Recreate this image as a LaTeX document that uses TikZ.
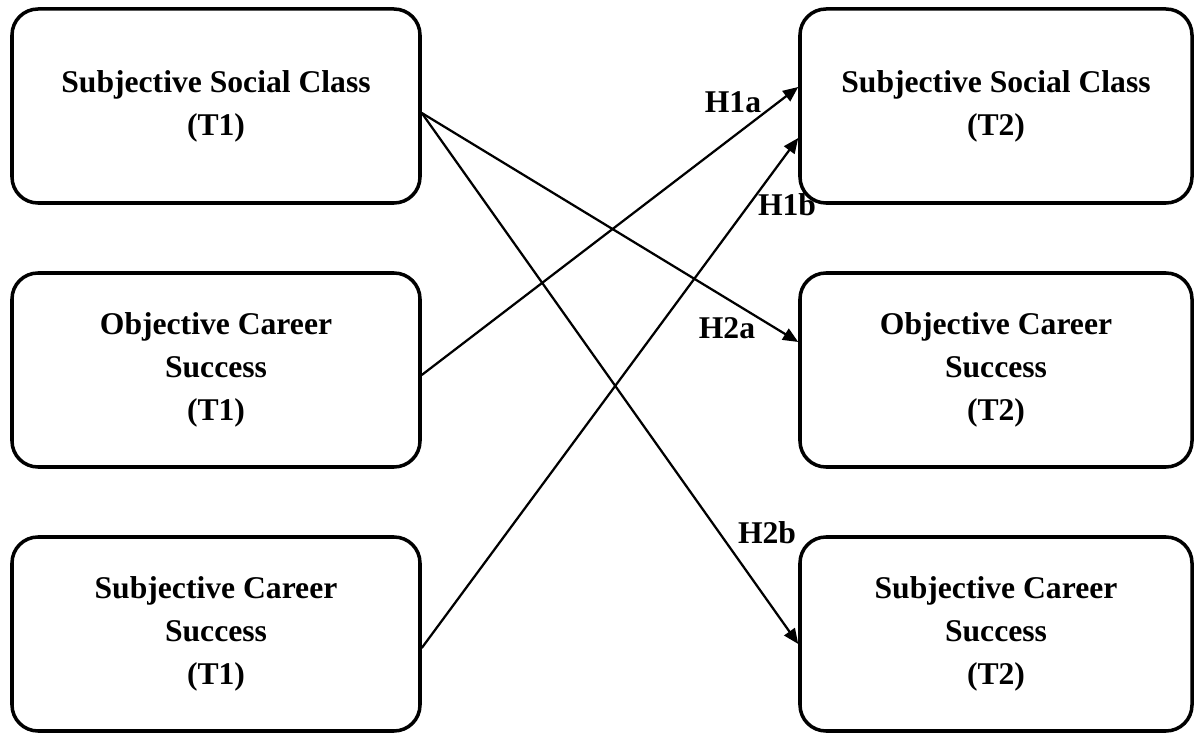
\documentclass[tikz,border=0pt]{standalone}
\usepackage{fontspec}
\setmainfont{Liberation Serif}
\usetikzlibrary{arrows.meta,positioning,calc}

\begin{document}
\begin{tikzpicture}[node distance=6.6cm, on grid]

\tikzstyle{var}=[rectangle, draw, rounded corners=0.65cm, line width=2.5pt, minimum height=4.85cm, align=center, inner sep=0pt, font=\fontsize{22.5}{30.6}\selectfont\bfseries]
\tikzstyle{hyp}=[-{Triangle[length=0.38cm, width=0.32cm]}, line width=1.6pt]
\tikzstyle{lbl}=[inner sep=0pt, font=\fontsize{22.5}{27}\selectfont\bfseries]

\useasboundingbox (0,0) rectangle (29.95,18.325);

% time 1
\node[var, minimum width=10.2cm] (ssc1) at (5.4,15.675) {Subjective Social Class\\(T1)};
\node[var, minimum width=10.2cm, below=of ssc1] (ocs1) {Objective Career\\Success\\(T1)};
\node[var, minimum width=10.2cm, below=of ocs1] (scs1) {Subjective Career\\Success\\(T1)};

% time 2
\node[var, minimum width=9.8cm, right=19.5cm of ssc1] (ssc2) {Subjective Social Class\\(T2)};
\node[var, minimum width=9.8cm, below=of ssc2] (ocs2) {Objective Career\\Success\\(T2)};
\node[var, minimum width=9.8cm, below=of ocs2] (scs2) {Subjective Career\\Success\\(T2)};

\draw[hyp] ($(ocs1.east)+(0,-0.125)$) -- ($(ssc2.west)+(0,0.475)$);
\draw[hyp] ($(scs1.east)+(0,-0.35)$) -- ($(ssc2.west)+(0,-0.8)$);
\draw[hyp] ($(ssc1.east)+(0,-0.175)$) -- ($(ocs2.west)+(0,0.7)$);
\draw[hyp] ($(ssc1.east)+(0,-0.175)$) -- ($(scs2.west)+(0,-0.25)$);

\node[lbl] (h1a) at (18.325,15.775) {H1a};
\node[lbl] (h1b) at (19.675,13.2) {H1b};
\node[lbl] (h2a) at (18.175,10.125) {H2a};
\node[lbl] (h2b) at (19.175,5.0) {H2b};

\end{tikzpicture}
\end{document}
